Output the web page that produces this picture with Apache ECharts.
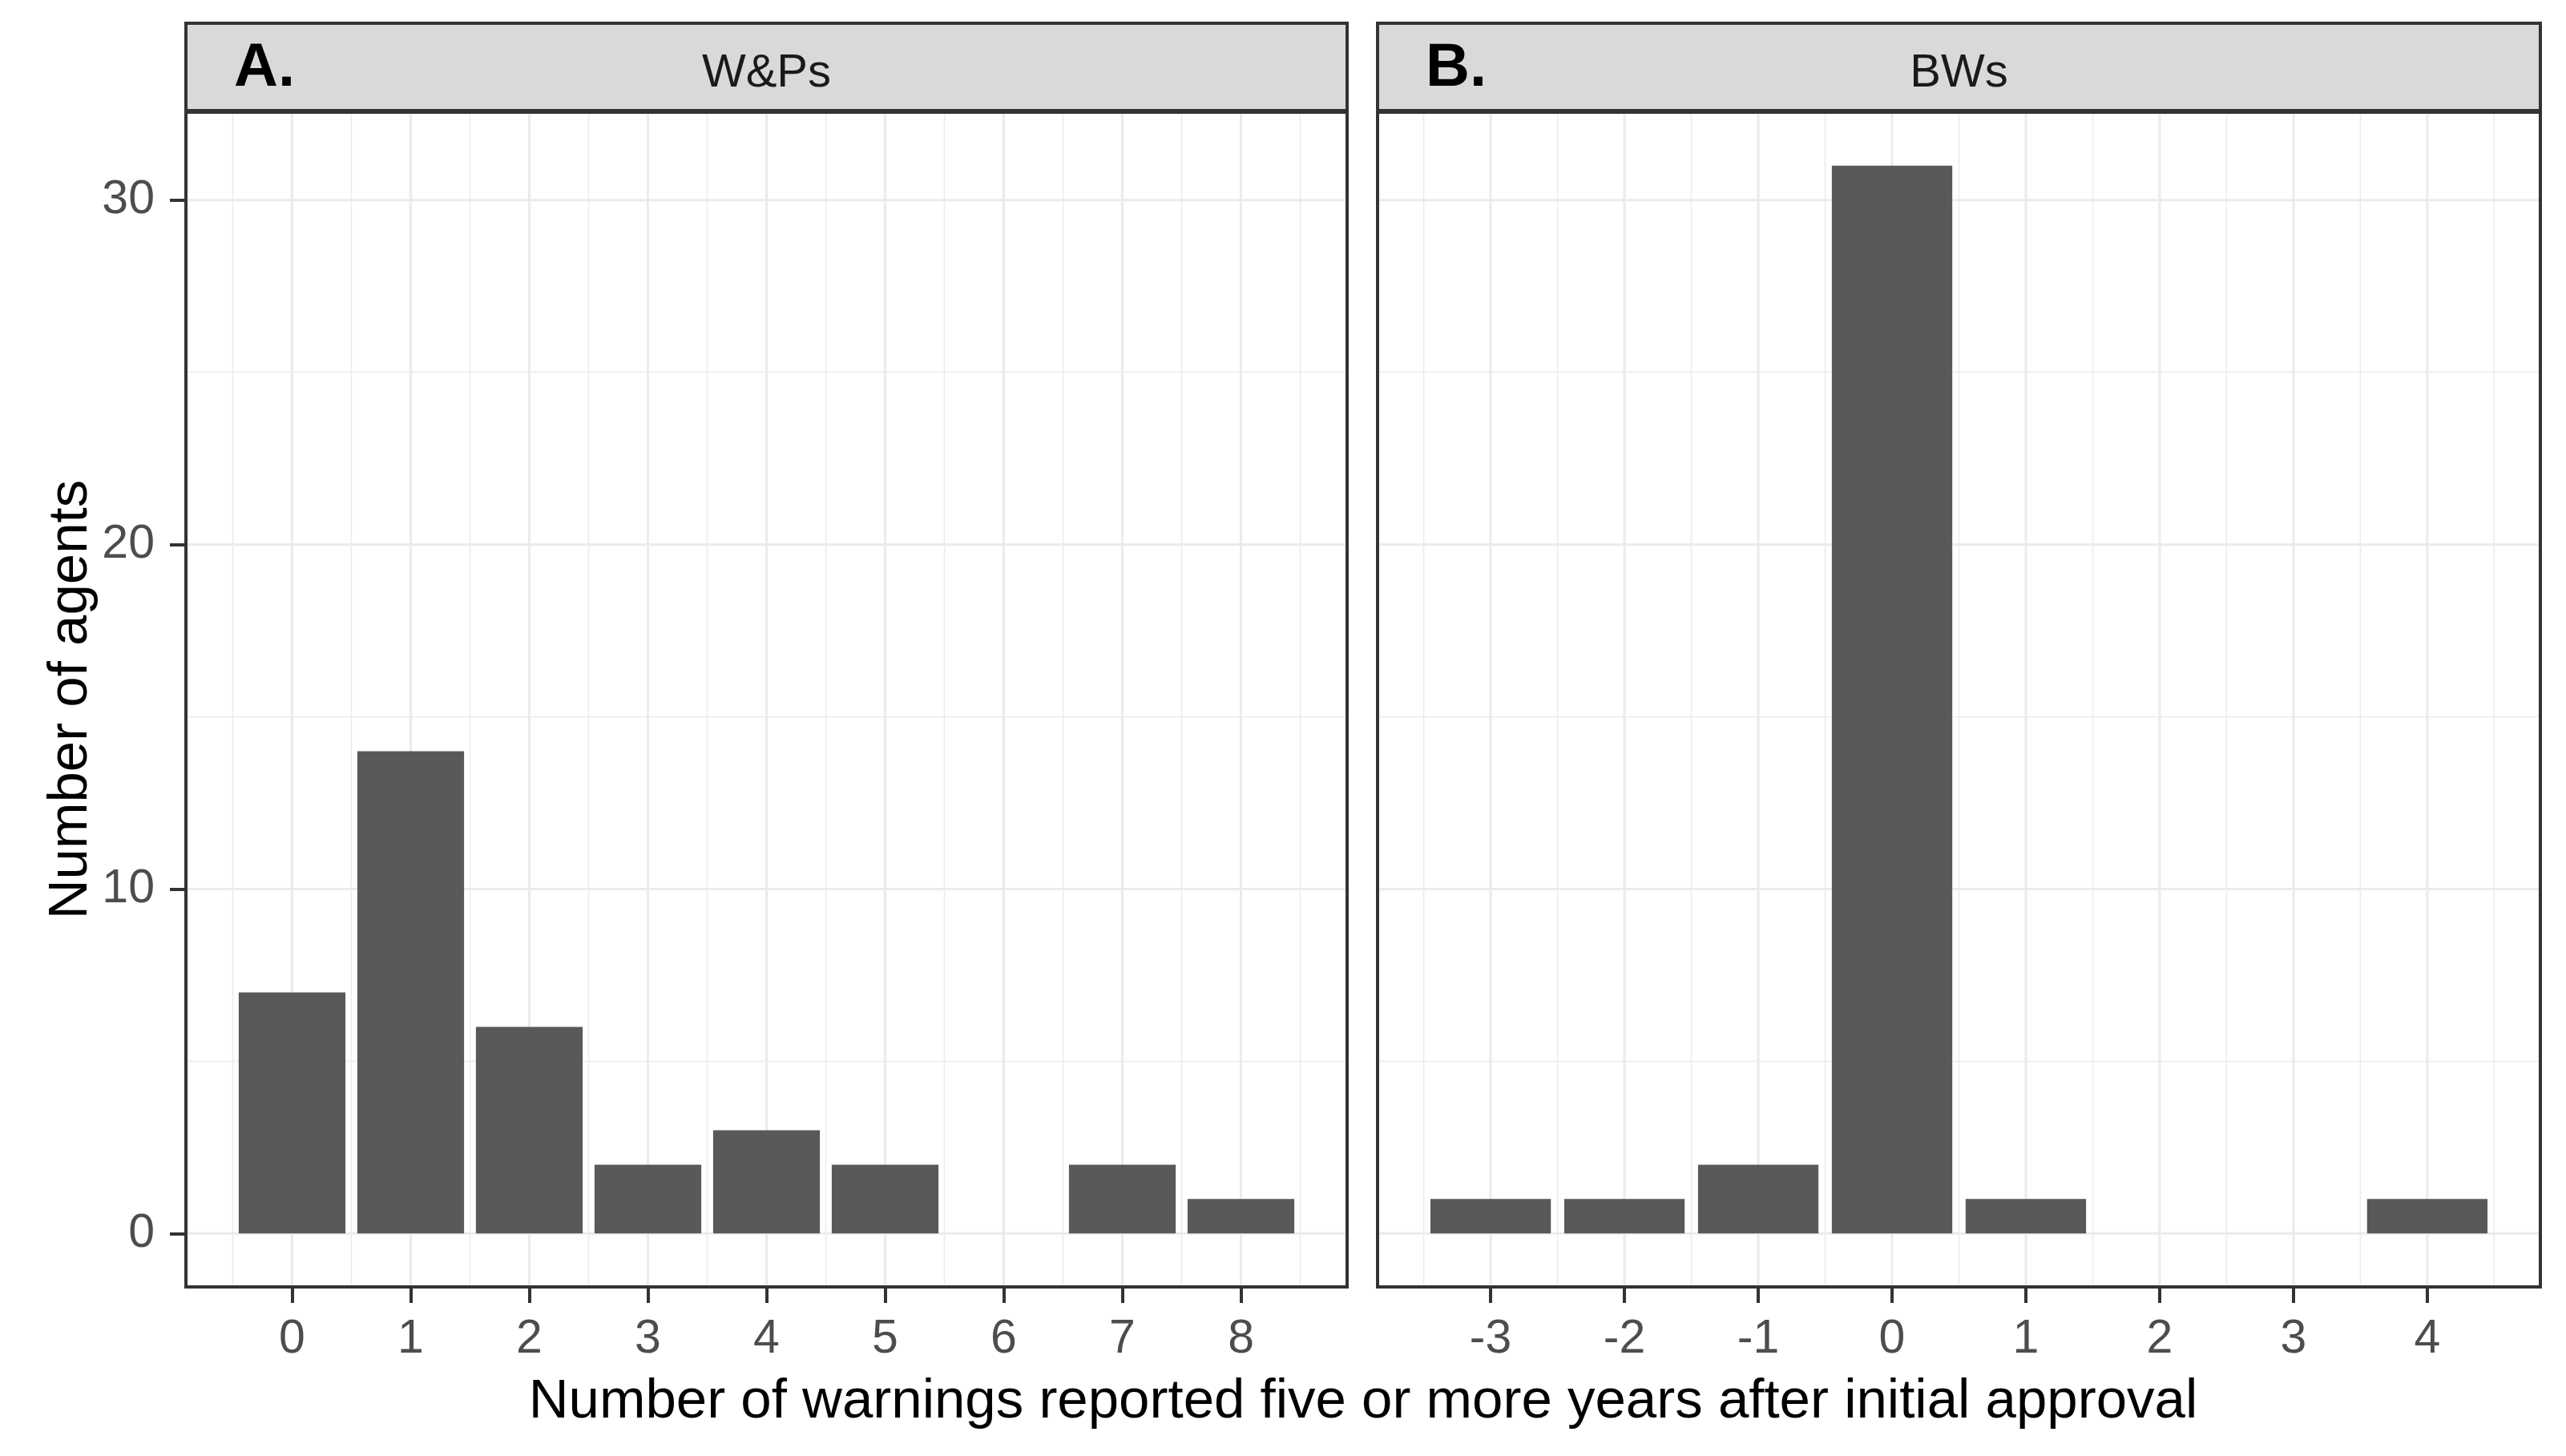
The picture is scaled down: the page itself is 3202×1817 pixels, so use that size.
<!DOCTYPE html>
<html>
<head>
<meta charset="utf-8">
<script src="https://cdn.jsdelivr.net/npm/echarts@6/dist/echarts.min.js"></script>
<style>
html,body{margin:0;padding:0;background:#fff;}
#chart{width:3202px;height:1817px;}
</style>
</head>
<body>
<div id="chart"></div>
<script>
// ---- data ----
const xA = [0, 1, 2, 3, 4, 5, 6, 7, 8];
const countsA = [7, 14, 6, 2, 3, 2, 0, 2, 1];
const xB = [-3, -2, -1, 0, 1, 2, 3, 4];
const countsB = [1, 1, 2, 31, 1, 0, 0, 1];
const yTicks = [0, 10, 20, 30];
const yMinor = [5, 15, 25];
const xMinorA = [-0.5, 0.5, 1.5, 2.5, 3.5, 4.5, 5.5, 6.5, 7.5, 8.5];
const xMinorB = [-3.5, -2.5, -1.5, -0.5, 0.5, 1.5, 2.5, 3.5, 4.5];
const stripLabels = ['W&Ps', 'BWs'];
const panelTags = ['A.', 'B.'];
const xTitle = 'Number of warnings reported five or more years after initial approval';
const yTitle = 'Number of agents';

// ---- layout ----
const FONT = 'Liberation Sans, Arial, sans-serif';
const panels = [{left: 232, width: 1449}, {left: 1719, width: 1451}];
const PTOP = 140, PBOT = 1606, STRIP_TOP = 29;
const PH = PBOT - PTOP;
const BORDER = '#333333';
const TICK_FS = 59;

function range(vals) {
  const lo = Math.min(...vals) - 0.45, hi = Math.max(...vals) + 0.45;
  const e = (hi - lo) * 0.05;
  return [lo - e, hi + e];
}
const yMax = Math.max(...countsA, ...countsB);
const yRange = [-yMax * 0.05, yMax * 1.05];
const rA = range(xA), rB = range(xB);

const chart = echarts.init(document.getElementById('chart'), null, {renderer: 'canvas'});

function xAxisDef(idx, r, ticks) {
  return {
    type: 'value', gridIndex: idx, min: r[0], max: r[1],
    axisLine: {show: false, onZero: false}, splitLine: {show: false},
    axisTick: {show: true, length: 20, lineStyle: {color: BORDER, width: 4}, customValues: ticks},
    axisLabel: {customValues: ticks, fontSize: TICK_FS, color: '#4d4d4d', margin: 36, fontFamily: FONT}
  };
}
function yAxisDef(idx, showLab) {
  return {
    type: 'value', gridIndex: idx, min: yRange[0], max: yRange[1],
    axisLine: {show: false, onZero: false}, splitLine: {show: false},
    axisTick: {show: showLab, length: 20, lineStyle: {color: BORDER, width: 4}, customValues: yTicks},
    axisLabel: {show: showLab, customValues: yTicks, fontSize: TICK_FS, color: '#4d4d4d', margin: 39, fontFamily: FONT}
  };
}
function hLines(idx, vals, w, anyX) {
  return {
    type: 'custom', xAxisIndex: idx, yAxisIndex: idx, z: 1, silent: true,
    data: vals.map(v => [anyX, v]),
    renderItem: function (params, api) {
      const cs = params.coordSys;
      const y = api.coord([api.value(0), api.value(1)])[1];
      return {type: 'line', shape: {x1: cs.x, y1: y, x2: cs.x + cs.width, y2: y},
              style: {stroke: '#ebebeb', lineWidth: w}};
    }
  };
}
function vLines(idx, vals, w) {
  return {
    type: 'custom', xAxisIndex: idx, yAxisIndex: idx, z: 1, silent: true,
    data: vals.map(v => [v, 0]),
    renderItem: function (params, api) {
      const cs = params.coordSys;
      const x = api.coord([api.value(0), api.value(1)])[0];
      return {type: 'line', shape: {x1: x, y1: cs.y, x2: x, y2: cs.y + cs.height},
              style: {stroke: '#ebebeb', lineWidth: w}};
    }
  };
}
function bars(idx, xs, ys) {
  return {
    type: 'custom', xAxisIndex: idx, yAxisIndex: idx, z: 3,
    data: xs.map((x, i) => [x, ys[i]]),
    renderItem: function (params, api) {
      const x = api.value(0), y = api.value(1);
      if (!y) return null;
      const p1 = api.coord([x - 0.45, y]);
      const p2 = api.coord([x + 0.45, 0]);
      return {type: 'rect', shape: {x: p1[0], y: p1[1], width: p2[0] - p1[0], height: p2[1] - p1[1]},
              style: {fill: '#595959'}};
    }
  };
}

const graphics = [];
panels.forEach((p, i) => {
  graphics.push({type: 'rect', z: 100, silent: true,
    shape: {x: p.left, y: PTOP, width: p.width, height: PH},
    style: {fill: 'none', stroke: BORDER, lineWidth: 4}});
  graphics.push({type: 'rect', z: 100, silent: true,
    shape: {x: p.left, y: STRIP_TOP, width: p.width, height: PTOP - 2 - STRIP_TOP},
    style: {fill: '#d9d9d9', stroke: BORDER, lineWidth: 4}});
  graphics.push({type: 'text', z: 101, silent: true,
    style: {x: p.left + p.width / 2, y: 92, text: stripLabels[i], fontSize: 58, fontFamily: FONT,
            fill: '#1a1a1a', textAlign: 'center', textVerticalAlign: 'middle'}});
  graphics.push({type: 'text', z: 101, silent: true,
    style: {x: p.left + 60, y: 86, text: panelTags[i], fontSize: 76, fontWeight: 'bold', fontFamily: FONT,
            fill: '#000', textAlign: 'left', textVerticalAlign: 'middle'}});
});
graphics.push({type: 'text', z: 101, silent: true,
  style: {x: (panels[0].left + panels[1].left + panels[1].width) / 2, y: 1750, text: xTitle, fontSize: 69,
          fontFamily: FONT, fill: '#000', textAlign: 'center', textVerticalAlign: 'middle'}});
graphics.push({type: 'text', z: 101, silent: true, x: 89, y: (PTOP + PBOT) / 2, rotation: Math.PI / 2,
  style: {x: 0, y: 0, text: yTitle, fontSize: 69, fontFamily: FONT, fill: '#000',
          textAlign: 'center', textVerticalAlign: 'middle'}});

chart.setOption({
  backgroundColor: '#fff',
  animation: false,
  grid: panels.map(p => ({left: p.left, top: PTOP, width: p.width, height: PH, containLabel: false, show: false})),
  xAxis: [xAxisDef(0, rA, xA), xAxisDef(1, rB, xB)],
  yAxis: [yAxisDef(0, true), yAxisDef(1, false)],
  series: [
    hLines(0, yMinor, 1.5, 0), hLines(0, yTicks, 3, 0), vLines(0, xMinorA, 1.5), vLines(0, xA, 3),
    hLines(1, yMinor, 1.5, 0), hLines(1, yTicks, 3, 0), vLines(1, xMinorB, 1.5), vLines(1, xB, 3),
    bars(0, xA, countsA), bars(1, xB, countsB)
  ],
  graphic: graphics
});
</script>
</body>
</html>
